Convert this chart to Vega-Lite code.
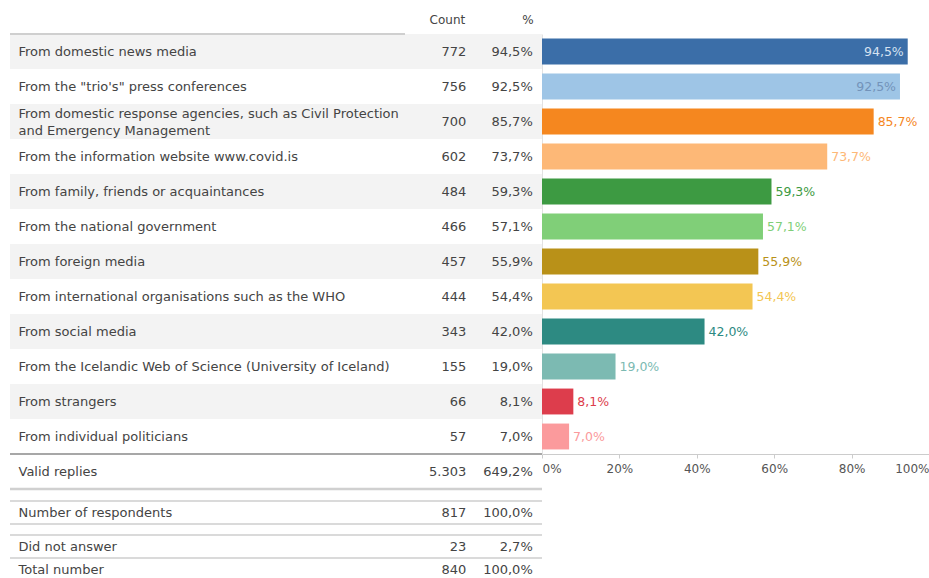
{
  "$schema": "https://vega.github.io/schema/vega-lite/v6.json",
  "autosize": {"type": "pad"},
  "padding": {"left": 8, "top": 13, "right": 0, "bottom": 0},
  "background": "white",
  "config": {
    "view": {"stroke": null},
    "font": "DejaVu Sans",
    "locale": {"number": {"decimal": ",", "thousands": ".", "grouping": [3], "currency": ["", ""]}},
    "text": {"font": "DejaVu Sans", "fontSize": 13, "color": "#444444"},
    "axisY": {"title": null, "domain": false, "ticks": false, "labelAlign": "left", "labelPadding": -8, "labelLimit": 0, "labelFontSize": 13, "labelColor": "#444444", "labelFont": "DejaVu Sans", "labelOverlap": false, "labelLineHeight": 17}
  },
  "datasets": {
    "rows": [
      {"label": "From domestic news media", "count": 772, "pct": 0.945, "section": "item"},
      {"label": "From the \"trio's\" press conferences", "count": 756, "pct": 0.925, "section": "item"},
      {"label": "From domestic response agencies, such as Civil Protection and Emergency Management", "count": 700, "pct": 0.857, "section": "item"},
      {"label": "From the information website www.covid.is", "count": 602, "pct": 0.737, "section": "item"},
      {"label": "From family, friends or acquaintances", "count": 484, "pct": 0.593, "section": "item"},
      {"label": "From the national government", "count": 466, "pct": 0.571, "section": "item"},
      {"label": "From foreign media", "count": 457, "pct": 0.559, "section": "item"},
      {"label": "From international organisations such as the WHO", "count": 444, "pct": 0.544, "section": "item"},
      {"label": "From social media", "count": 343, "pct": 0.420, "section": "item"},
      {"label": "From the Icelandic Web of Science (University of Iceland)", "count": 155, "pct": 0.190, "section": "item"},
      {"label": "From strangers", "count": 66, "pct": 0.081, "section": "item"},
      {"label": "From individual politicians", "count": 57, "pct": 0.070, "section": "item"},
      {"label": "Valid replies", "count": 5303, "pct": 6.492, "section": "valid"},
      {"label": "Number of respondents", "count": 817, "pct": 1.0, "section": "respondents"},
      {"label": "Did not answer", "count": 23, "pct": 0.027, "section": "other"},
      {"label": "Total number", "count": 840, "pct": 1.0, "section": "other"}
    ]
  },
  "spacing": 9,
  "vconcat": [
    {
      "spacing": 0,
      "bounds": "flush",
      "hconcat": [
        {
          "width": 395,
          "height": 455,
          "data": {"name": "rows"},
          "transform": [
            {"filter": "datum.section == 'item' || datum.section == 'valid'"},
            {"window": [{"op": "row_number", "as": "rn"}]}
          ],
          "encoding": {
            "y": {
              "field": "label", "type": "nominal", "sort": null,
              "scale": {"paddingInner": 0, "paddingOuter": 0},
              "axis": {
                "labelOffset": {"condition": {"test": "indexof(datum.value, 'Civil Protection and') > 0", "value": -8}, "value": 0},
                "labelExpr": "indexof(datum.label, 'Civil Protection and') > 0 ? ['From domestic response agencies, such as Civil Protection', 'and Emergency Management'] : datum.label"
              }
            }
          },
          "layer": [
            {
              "mark": {"type": "rect"},
              "encoding": {
                "fill": {"condition": {"test": "datum.rn % 2 == 1 && datum.section == 'item'", "value": "#f3f3f3"}, "value": "#ffffff"}
              }
            },
            {
              "transform": [{"filter": "datum.rn == 1"}],
              "mark": {"type": "rule", "color": "#cfcfcf", "strokeWidth": 2},
              "encoding": {"y": {"field": "label", "type": "nominal", "sort": null, "bandPosition": 0}}
            },
            {
              "transform": [{"filter": "datum.section == 'valid'"}],
              "mark": {"type": "rule", "color": "#8a8a8a", "strokeWidth": 1.5},
              "encoding": {"y": {"field": "label", "type": "nominal", "sort": null, "bandPosition": 0}}
            },
            {
              "transform": [{"filter": "datum.section == 'valid'"}],
              "mark": {"type": "rule", "color": "#d0d0d0", "strokeWidth": 2.5},
              "encoding": {"y": {"field": "label", "type": "nominal", "sort": null, "bandPosition": 1}}
            }
          ]
        },
        {
          "width": 137,
          "height": 455,
          "data": {"name": "rows"},
          "transform": [
            {"filter": "datum.section == 'item' || datum.section == 'valid'"},
            {"window": [{"op": "row_number", "as": "rn"}]}
          ],
          "encoding": {
            "y": {
              "field": "label", "type": "nominal", "sort": null,
              "scale": {"paddingInner": 0, "paddingOuter": 0},
              "axis": null
            }
          },
          "layer": [
            {
              "mark": {"type": "rect"},
              "encoding": {
                "fill": {"condition": {"test": "datum.rn % 2 == 1 && datum.section == 'item'", "value": "#f3f3f3"}, "value": "#ffffff"}
              }
            },
            {
              "transform": [{"filter": "datum.section == 'valid'"}],
              "mark": {"type": "rule", "color": "#8a8a8a", "strokeWidth": 1.5},
              "encoding": {"y": {"field": "label", "type": "nominal", "sort": null, "bandPosition": 0}}
            },
            {
              "transform": [{"filter": "datum.section == 'valid'"}],
              "mark": {"type": "rule", "color": "#d0d0d0", "strokeWidth": 2.5},
              "encoding": {"y": {"field": "label", "type": "nominal", "sort": null, "bandPosition": 1}}
            },
            {
              "mark": {"type": "text", "align": "right", "dx": 27},
              "encoding": {
                "x": {
                  "datum": "Count", "type": "nominal",
                  "scale": {"type": "band", "domain": ["Count", "%"], "paddingInner": 0, "paddingOuter": 0},
                  "axis": {"orient": "top", "title": null, "domain": false, "ticks": false, "labelAngle": 0, "labelAlign": "right", "labelOffset": 26, "labelPadding": 8, "labelFontSize": 12, "labelColor": "#444444", "labelFont": "DejaVu Sans"}
                },
                "text": {"field": "count", "type": "quantitative", "format": ",d"}
              }
            },
            {
              "mark": {"type": "text", "align": "right", "dx": 25},
              "encoding": {
                "x": {"datum": "%", "type": "nominal"},
                "text": {"field": "pct", "type": "quantitative", "format": ".1%"}
              }
            }
          ]
        },
        {
          "width": 387,
          "height": 420,
          "data": {"name": "rows"},
          "transform": [{"filter": "datum.section == 'item'"}],
          "encoding": {
            "y": {
              "field": "label", "type": "nominal", "sort": null,
              "scale": {"paddingInner": 0.26, "paddingOuter": 0.13},
              "axis": {"title": null, "labels": false, "ticks": false, "domain": true, "domainColor": "#e2e2e2"}
            }
          },
          "layer": [
            {
              "mark": {"type": "bar"},
              "encoding": {
                "x": {
                  "field": "pct", "type": "quantitative",
                  "scale": {"domain": [0, 1], "nice": false},
                  "axis": {"title": null, "format": ".0%", "values": [0, 0.2, 0.4, 0.6, 0.8, 1], "labelFlush": true, "grid": false, "domainColor": "#cccccc", "tickColor": "#cccccc", "tickSize": 4, "labelColor": "#555555", "labelFontSize": 12, "labelFont": "DejaVu Sans", "labelPadding": 5}
                },
                "color": {
                  "field": "label", "type": "nominal", "sort": null, "legend": null,
                  "scale": {
                    "domain": [
                      "From domestic news media",
                      "From the \"trio's\" press conferences",
                      "From domestic response agencies, such as Civil Protection and Emergency Management",
                      "From the information website www.covid.is",
                      "From family, friends or acquaintances",
                      "From the national government",
                      "From foreign media",
                      "From international organisations such as the WHO",
                      "From social media",
                      "From the Icelandic Web of Science (University of Iceland)",
                      "From strangers",
                      "From individual politicians"
                    ],
                    "range": ["#3b6ea8", "#9ec5e6", "#f5871f", "#fdb877", "#3d9a42", "#80cf78", "#b99118", "#f3c653", "#2d8a82", "#7cbab2", "#dd3d4c", "#fb9a9c"]
                  }
                }
              }
            },
            {
              "transform": [{"filter": "datum.pct < 0.9"}],
              "mark": {"type": "text", "align": "left", "dx": 4, "fontSize": 12.5},
              "encoding": {
                "x": {"field": "pct", "type": "quantitative"},
                "text": {"field": "pct", "type": "quantitative", "format": ".1%"},
                "color": {"field": "label", "type": "nominal", "sort": null, "legend": null}
              }
            },
            {
              "transform": [{"filter": "datum.pct >= 0.9"}],
              "mark": {"type": "text", "align": "right", "dx": -4, "fontSize": 12.5},
              "encoding": {
                "x": {"field": "pct", "type": "quantitative"},
                "text": {"field": "pct", "type": "quantitative", "format": ".1%"},
                "color": {"condition": {"test": "datum.pct > 0.94", "value": "#d6e2f1"}, "value": "#7393ba"}
              }
            }
          ]
        }
      ]
    },
    {
      "spacing": 0,
      "bounds": "flush",
      "hconcat": [
        {
          "width": 395,
          "height": 23,
          "data": {"name": "rows"},
          "transform": [{"filter": "datum.section == 'respondents'"}],
          "encoding": {
            "y": {"field": "label", "type": "nominal", "sort": null, "scale": {"paddingInner": 0, "paddingOuter": 0}}
          },
          "layer": [
            {
              "mark": {"type": "rule", "color": "#b5b5b5", "strokeWidth": 1},
              "encoding": {"y": {"field": "label", "type": "nominal", "sort": null, "bandPosition": 0}}
            },
            {
              "mark": {"type": "rule", "color": "#b5b5b5", "strokeWidth": 1},
              "encoding": {"y": {"field": "label", "type": "nominal", "sort": null, "bandPosition": 1}}
            }
          ]
        },
        {
          "width": 137,
          "height": 23,
          "data": {"name": "rows"},
          "transform": [{"filter": "datum.section == 'respondents'"}],
          "encoding": {
            "y": {"field": "label", "type": "nominal", "sort": null, "scale": {"paddingInner": 0, "paddingOuter": 0}, "axis": null}
          },
          "layer": [
            {
              "mark": {"type": "rule", "color": "#b5b5b5", "strokeWidth": 1},
              "encoding": {"y": {"field": "label", "type": "nominal", "sort": null, "bandPosition": 0}}
            },
            {
              "mark": {"type": "rule", "color": "#b5b5b5", "strokeWidth": 1},
              "encoding": {"y": {"field": "label", "type": "nominal", "sort": null, "bandPosition": 1}}
            },
            {
              "mark": {"type": "text", "align": "right", "dx": 27},
              "encoding": {
                "x": {"datum": "Count", "type": "nominal", "scale": {"type": "band", "domain": ["Count", "%"], "paddingInner": 0, "paddingOuter": 0}, "axis": null},
                "text": {"field": "count", "type": "quantitative", "format": ",d"}
              }
            },
            {
              "mark": {"type": "text", "align": "right", "dx": 25},
              "encoding": {
                "x": {"datum": "%", "type": "nominal"},
                "text": {"field": "pct", "type": "quantitative", "format": ".1%"}
              }
            }
          ]
        }
      ]
    },
    {
      "spacing": 0,
      "bounds": "flush",
      "hconcat": [
        {
          "width": 395,
          "height": 46,
          "data": {"name": "rows"},
          "transform": [{"filter": "datum.section == 'other'"}],
          "encoding": {
            "y": {"field": "label", "type": "nominal", "sort": null, "scale": {"paddingInner": 0, "paddingOuter": 0}}
          },
          "layer": [
            {
              "mark": {"type": "rule", "color": "#b5b5b5", "strokeWidth": 1},
              "encoding": {"y": {"field": "label", "type": "nominal", "sort": null, "bandPosition": 0}}
            }
          ]
        },
        {
          "width": 137,
          "height": 46,
          "data": {"name": "rows"},
          "transform": [{"filter": "datum.section == 'other'"}],
          "encoding": {
            "y": {"field": "label", "type": "nominal", "sort": null, "scale": {"paddingInner": 0, "paddingOuter": 0}, "axis": null}
          },
          "layer": [
            {
              "mark": {"type": "rule", "color": "#b5b5b5", "strokeWidth": 1},
              "encoding": {"y": {"field": "label", "type": "nominal", "sort": null, "bandPosition": 0}}
            },
            {
              "mark": {"type": "text", "align": "right", "dx": 27},
              "encoding": {
                "x": {"datum": "Count", "type": "nominal", "scale": {"type": "band", "domain": ["Count", "%"], "paddingInner": 0, "paddingOuter": 0}, "axis": null},
                "text": {"field": "count", "type": "quantitative", "format": ",d"}
              }
            },
            {
              "mark": {"type": "text", "align": "right", "dx": 25},
              "encoding": {
                "x": {"datum": "%", "type": "nominal"},
                "text": {"field": "pct", "type": "quantitative", "format": ".1%"}
              }
            }
          ]
        }
      ]
    }
  ]
}
